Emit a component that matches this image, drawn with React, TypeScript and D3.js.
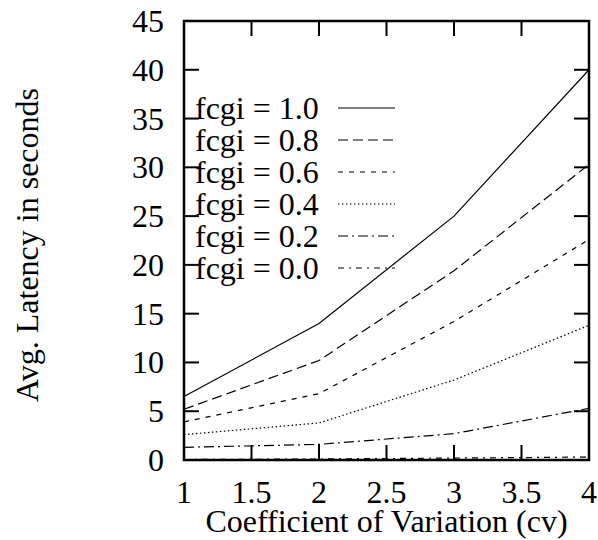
import React from "react";
import * as d3 from "d3";

const cvValues = [1, 2, 3, 4];
const seriesNames = ["fcgi = 1.0", "fcgi = 0.8", "fcgi = 0.6", "fcgi = 0.4", "fcgi = 0.2", "fcgi = 0.0"];
const fcgi10 = [6.5, 14.0, 25.0, 40.0];
const fcgi08 = [5.2, 10.2, 19.4, 30.3];
const fcgi06 = [3.9, 6.8, 14.2, 22.6];
const fcgi04 = [2.6, 3.8, 8.2, 13.8];
const fcgi02 = [1.3, 1.6, 2.7, 5.3];
const fcgi00 = [0.05, 0.1, 0.2, 0.3];
const xTicks = [1, 1.5, 2, 2.5, 3, 3.5, 4];
const yTicks = [0, 5, 10, 15, 20, 25, 30, 35, 40, 45];

const seriesValues = [fcgi10, fcgi08, fcgi06, fcgi04, fcgi02, fcgi00];
const dashes = ["", "10,5", "5,6", "1.5,2.5", "10,4,2,4", "6,5,2,5"];

export default function App() {
  const W = 598, H = 540;
  const left = 184, right = 589, top = 21, bottom = 460;
  const x = d3.scaleLinear().domain([1, 4]).range([left, right]);
  const y = d3.scaleLinear().domain([0, 45]).range([bottom, top]);
  const line = d3.line<number>().x((_, i) => x(cvValues[i])).y((d) => y(d));
  const font = "'Liberation Serif', 'Times New Roman', serif";
  const fs = 32;
  const tl = 15;
  const legY0 = 108, legDy = 32;
  return (
    <svg width={W} height={H} style={{ position: "absolute", left: 0, top: 0 }} fontFamily={font}>
      <rect width={W} height={H} fill="white" />
      {seriesValues.map((vals, i) => (
        <path key={i} d={line(vals) || ""} fill="none" stroke="black" strokeWidth={1.2} strokeDasharray={dashes[i]} />
      ))}
      {seriesNames.map((name, i) => (
        <g key={name}>
          <text x={195} y={legY0 + i * legDy} dominantBaseline="central" fontSize={fs}>{name}</text>
          <line x1={338} x2={395} y1={legY0 + i * legDy} y2={legY0 + i * legDy} stroke="black" strokeWidth={1.2} strokeDasharray={dashes[i]} />
        </g>
      ))}
      {yTicks.map((t) => (
        <g key={"y" + t}>
          <line x1={left} x2={left + tl} y1={y(t)} y2={y(t)} stroke="black" strokeWidth={2} />
          <line x1={right} x2={right - tl} y1={y(t)} y2={y(t)} stroke="black" strokeWidth={2} />
          <text x={164} y={y(t)} textAnchor="end" dominantBaseline="central" fontSize={fs}>{t}</text>
        </g>
      ))}
      {xTicks.map((t) => (
        <g key={"x" + t}>
          <line x1={x(t)} x2={x(t)} y1={bottom} y2={bottom - tl} stroke="black" strokeWidth={2} />
          <line x1={x(t)} x2={x(t)} y1={top} y2={top + tl} stroke="black" strokeWidth={2} />
          <text x={x(t)} y={503} textAnchor="middle" fontSize={fs}>{t}</text>
        </g>
      ))}
      <rect x={left} y={top} width={right - left} height={bottom - top} fill="none" stroke="black" strokeWidth={2.5} />
      <text x={(left + right) / 2} y={532} textAnchor="middle" fontSize={fs}>Coefficient of Variation (cv)</text>
      <text transform={`translate(38,245) rotate(-90)`} textAnchor="middle" fontSize={fs}>Avg. Latency in seconds</text>
    </svg>
  );
}
